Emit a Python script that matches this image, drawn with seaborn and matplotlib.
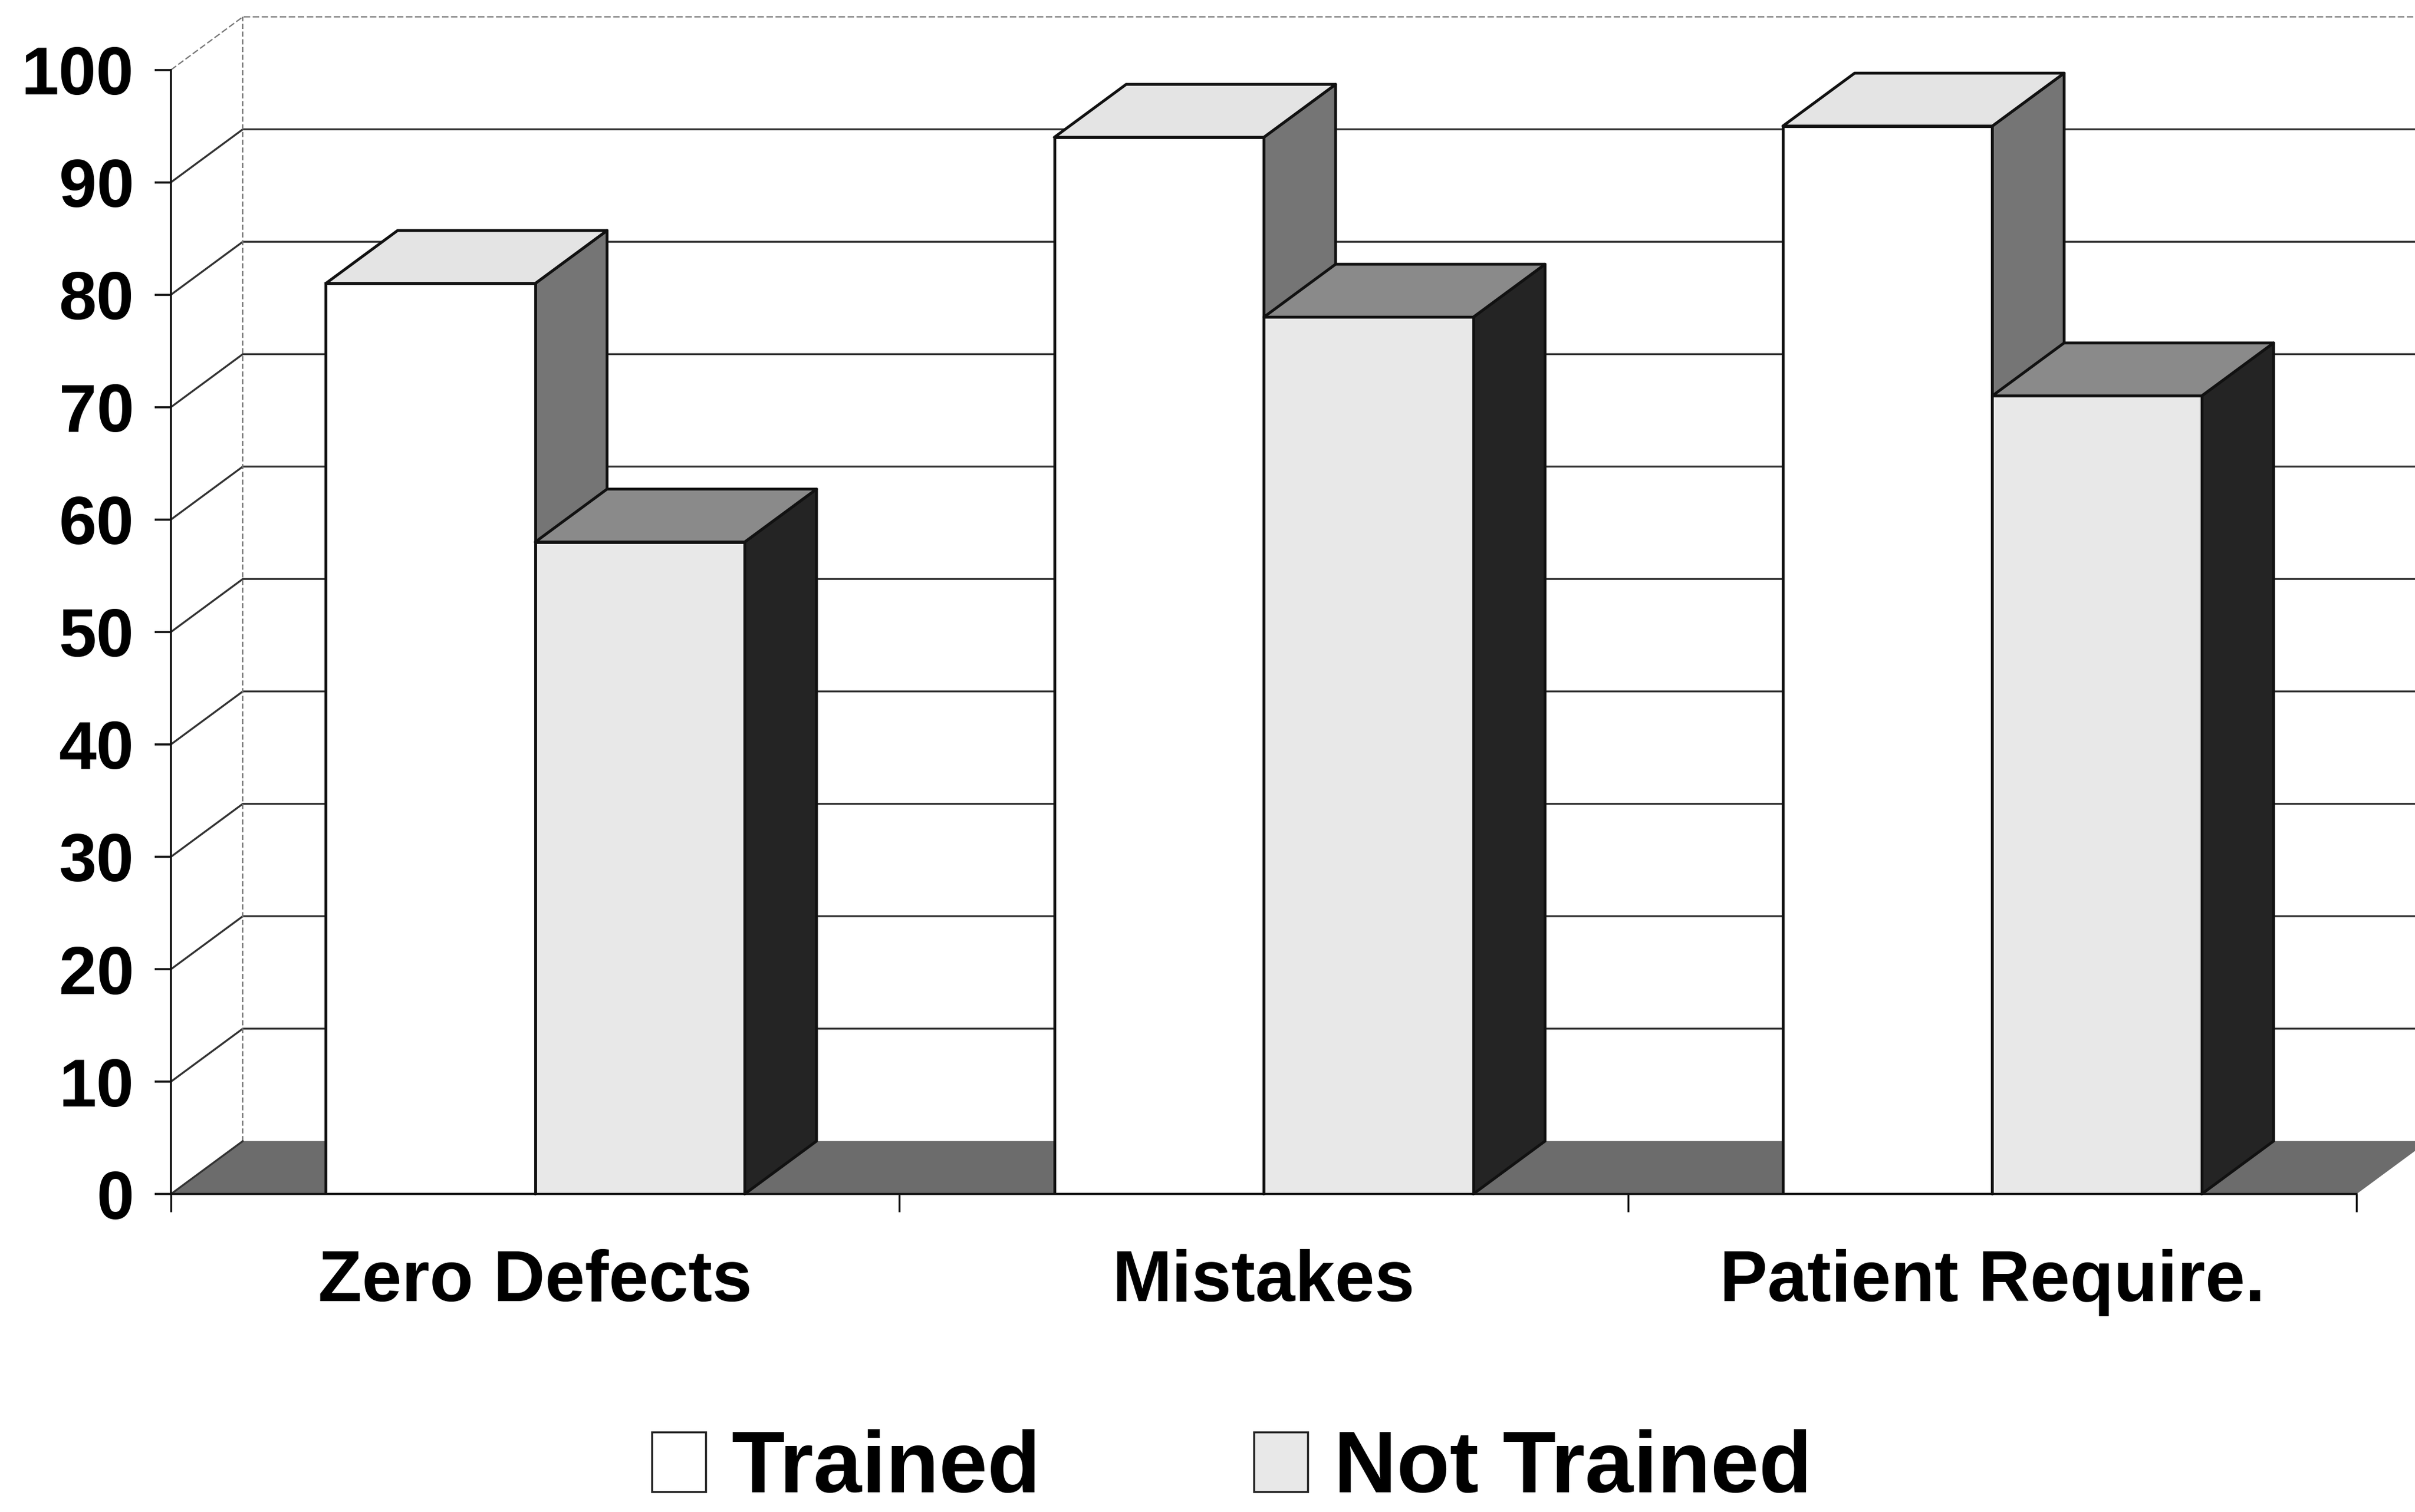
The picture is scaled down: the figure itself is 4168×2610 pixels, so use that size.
import matplotlib
matplotlib.use("Agg")
import matplotlib.pyplot as plt
from matplotlib.patches import Polygon, Patch
import seaborn as sns
import pandas as pd

# Survey results (percent) per topic
categories = ["Zero Defects", "Mistakes", "Patient Require."]
groups = ["Trained", "Not Trained"]
trained = [81, 94, 95]
not_trained = [58, 78, 71]
y_ticks = [0, 10, 20, 30, 40, 50, 60, 70, 80, 90, 100]

sns.set_style("white")
plt.rcParams["font.family"] = ["Liberation Sans", "DejaVu Sans"]
plt.rcParams["font.weight"] = "bold"
plt.rcParams["text.color"] = "black"
plt.rcParams["xtick.labelcolor"] = "black"
plt.rcParams["ytick.labelcolor"] = "black"

df = pd.DataFrame({
    "category": categories * 2,
    "group": [groups[0]] * len(categories) + [groups[1]] * len(categories),
    "value": trained + not_trained,
})

front_colors = {"Trained": "#ffffff", "Not Trained": "#e8e8e8"}
top_colors = {"Trained": "#e4e4e4", "Not Trained": "#8a8a8a"}
side_colors = {"Trained": "#757575", "Not Trained": "#242424"}
edge = "#111111"
grid_col = "#333333"

fig = plt.figure(figsize=(41.68, 26.10), dpi=100)
fig.patch.set_facecolor("white")
ax = fig.add_axes([0.0708, 0.2103, 0.905, 0.7435])

sns.barplot(data=df, x="category", y="value", hue="group",
            order=categories, hue_order=groups, palette=front_colors,
            width=0.575, saturation=1, edgecolor=edge, linewidth=3.5,
            errorbar=None, legend=False, ax=ax)

# bars drawn by seaborn, tagged with their group, left to right
bars = []
for grp, cont in zip(groups, ax.containers):
    for bar in cont:
        bars.append((bar, grp))
bars.sort(key=lambda item: item[0].get_x())

ax.set_xlim(-0.5, 2.5)
ax.set_ylim(0, 100)

# depth of the pseudo-3D box, in data units
DX, DY = 0.0986, 4.71
x_left, x_right = -0.5, 2.5

# floor plate
floor = Polygon([(x_left, 0), (x_left + DX, DY), (x_right + DX, DY), (x_right, 0)],
                closed=True, facecolor="#6c6c6c", edgecolor="none",
                zorder=1.2, clip_on=False)
ax.add_patch(floor)

# gridlines: short diagonal on the side wall, then across the back wall
for v in y_ticks[1:-1]:
    ax.plot([x_left, x_left + DX, x_right + DX], [v, v + DY, v + DY],
            color=grid_col, lw=2.4, zorder=1.1, clip_on=False,
            solid_capstyle="butt")
ax.plot([x_left, x_left + DX], [0, DY], color=grid_col, lw=2.4,
        zorder=1.3, clip_on=False)
# outline of the back wall
ax.plot([x_left, x_left + DX, x_right + DX], [100, 100 + DY, 100 + DY],
        color="#777777", lw=1.6, ls=(0, (5, 2)), zorder=1.1, clip_on=False)
ax.plot([x_left + DX, x_left + DX], [DY, 100 + DY],
        color="#777777", lw=1.6, ls=(0, (4, 2)), zorder=1.1, clip_on=False)

# give the bars their top and side faces
for i, (bar, grp) in enumerate(bars):
    x0 = bar.get_x()
    x1 = x0 + bar.get_width()
    h = bar.get_height()
    z = 3 + i
    bar.set_zorder(z)
    side = Polygon([(x1, 0), (x1 + DX, DY), (x1 + DX, h + DY), (x1, h)],
                   closed=True, facecolor=side_colors[grp], edgecolor=edge,
                   linewidth=3.5, joinstyle="round", zorder=z - 0.2, clip_on=False)
    top = Polygon([(x0, h), (x1, h), (x1 + DX, h + DY), (x0 + DX, h + DY)],
                  closed=True, facecolor=top_colors[grp], edgecolor=edge,
                  linewidth=3.5, joinstyle="round", zorder=z - 0.1, clip_on=False)
    ax.add_patch(side)
    ax.add_patch(top)

# axes
for s in ["top", "right"]:
    ax.spines[s].set_visible(False)
for s in ["left", "bottom"]:
    ax.spines[s].set_linewidth(2.6)
    ax.spines[s].set_color("#111111")
    ax.spines[s].set_zorder(2)

ax.set_yticks(y_ticks)
ax.set_yticklabels([str(t) for t in y_ticks])
ax.set_xticks(range(len(categories)))
ax.set_xticklabels(categories)
ax.set_xticks([-0.5, 0.5, 1.5, 2.5], minor=True)
ax.tick_params(axis="y", which="major", left=True, direction="out", length=20,
               width=2.6, color="#111111", pad=26, labelsize=84, labelcolor="black")
ax.tick_params(axis="x", which="major", bottom=True, length=0, pad=68, labelsize=89,
               labelcolor="black")
ax.tick_params(axis="x", which="minor", bottom=True, direction="out", length=22,
               width=2.4, color="#111111")
for lab in ax.get_xticklabels() + ax.get_yticklabels():
    lab.set_fontweight("bold")
ax.set_xlabel("")
ax.set_ylabel("")
ax.patch.set_alpha(0)

handles = [Patch(facecolor=front_colors[g], edgecolor="#222222", linewidth=2.5) for g in groups]
leg = fig.legend(handles, groups, loc="center", bbox_to_anchor=(0.51, 0.028),
                 ncol=2, frameon=False, handlelength=0.62, handleheight=0.68,
                 handletextpad=0.3, columnspacing=2.45,
                 prop={"family": ["Liberation Sans", "DejaVu Sans"], "weight": "bold", "size": 108})
for t in leg.get_texts():
    t.set_color("black")

fig.savefig("out.png", dpi=100, facecolor="white")
